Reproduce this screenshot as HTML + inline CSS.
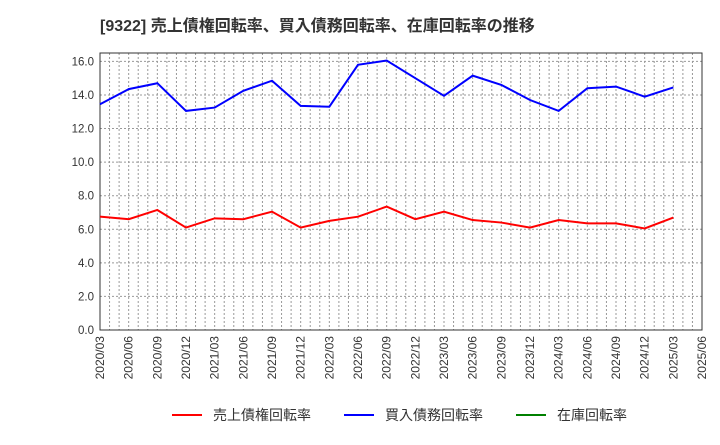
<!DOCTYPE html>
<html><head><meta charset="utf-8"><style>
body{margin:0;background:#fff;font-family:"Liberation Sans","Noto Sans CJK JP",sans-serif;}
</style></head><body>
<svg id="c" width="720" height="440" xmlns="http://www.w3.org/2000/svg">
<text x="100" y="31" font-size="16" font-weight="bold" fill="#333">[9322]  売上債権回転率、買入債務回転率、在庫回転率の推移</text>
<g id="grid"></g><g id="axes"></g><g id="series"></g>
<g>
<line x1="172" y1="415" x2="202" y2="415" stroke="#ff0000" stroke-width="2"/>
<text x="213" y="420" font-size="14" fill="#333">売上債権回転率</text>
<line x1="344" y1="415" x2="374" y2="415" stroke="#0000ff" stroke-width="2"/>
<text x="385" y="420" font-size="14" fill="#333">買入債務回転率</text>
<line x1="516" y1="415" x2="546" y2="415" stroke="#008000" stroke-width="2"/>
<text x="557" y="420" font-size="14" fill="#333">在庫回転率</text>
</g>
</svg>
<script>
const categories=["2020/03","2020/06","2020/09","2020/12","2021/03","2021/06","2021/09","2021/12","2022/03","2022/06","2022/09","2022/12","2023/03","2023/06","2023/09","2023/12","2024/03","2024/06","2024/09","2024/12","2025/03","2025/06"];
const receivables=[6.75,6.6,7.15,6.1,6.65,6.6,7.05,6.1,6.5,6.75,7.35,6.6,7.05,6.55,6.4,6.1,6.55,6.35,6.35,6.05,6.7];
const payables=[13.45,14.35,14.7,13.05,13.25,14.25,14.85,13.35,13.3,15.8,16.05,15.0,13.95,15.15,14.6,13.7,13.05,14.4,14.5,13.9,14.45];
const inventory=[];
const yTicks=[0,2,4,6,8,10,12,14,16];
const L=100,R=702,T=53,B=330,YMAX=16.5;
const ns="http://www.w3.org/2000/svg";
const xs=i=>L+(R-L)*i/(categories.length-1);
const ys=v=>B-(B-T)*v/YMAX;
function mk(t,a,p){const e=document.createElementNS(ns,t);for(const k in a)e.setAttribute(k,a[k]);p.appendChild(e);return e;}
const g=document.getElementById('grid'),ax=document.getElementById('axes'),s=document.getElementById('series');
for(let m=1;m<63;m++){const x=L+(R-L)*m/63;const l=mk('line',{x1:x,x2:x,y1:T,y2:B,stroke:'#999','stroke-dasharray':'2,2','stroke-width':1},g);

}
yTicks.forEach(v=>{const y=ys(v);const l=mk('line',{x1:L,x2:R,y1:y,y2:y,stroke:'#999','stroke-dasharray':'2,2','stroke-width':1},g);


const t=mk('text',{x:L-6,y:y+4,'text-anchor':'end','font-size':11.5,fill:'#333'},ax);t.textContent=v.toFixed(1);

});
categories.forEach((c,i)=>{const x=xs(i);const t=mk('text',{x:x+4,y:B+6,'text-anchor':'end','font-size':12,fill:'#333',transform:`rotate(-90 ${x+4} ${B+6})`},ax);t.textContent=c;

});
const fr=mk('rect',{x:L,y:T,width:R-L,height:B-T,fill:'none',stroke:'#333','stroke-width':1},ax);


function line(d,col,name){if(!d.length)return;const p=mk('polyline',{points:d.map((v,i)=>xs(i)+','+ys(v)).join(' '),fill:'none',stroke:col,'stroke-width':2},s);

}
line(receivables,'#ff0000','receivables-line');
line(payables,'#0000ff','payables-line');
line(inventory,'#008000','inventory-line');
</script>
</body></html>
